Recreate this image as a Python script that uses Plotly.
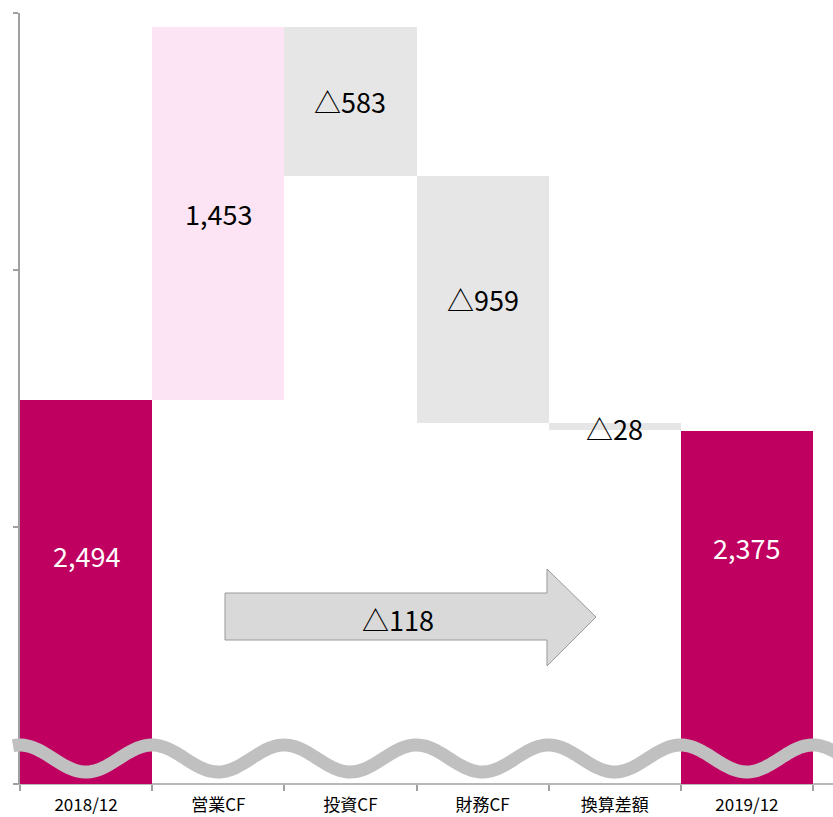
import numpy as np
import plotly.graph_objects as go

# ---- data ----
categories = ["2018/12", "営業CF", "投資CF", "財務CF", "換算差額", "2019/12"]
start_value = 2494
changes = [1453, -583, -959, -28]
end_value = 2375
labels = ["2,494", "1,453", "△583", "△959", "△28", "2,375"]
net_change_label = "△118"
y_min, y_max = 1000, 4000

# ---- layout geometry (pixels) ----
W, H = 833, 817
ML, MR, MT, MB = 20, 20, 13, 33
PW, PH = W - ML - MR, H - MT - MB

def px(x):
    return (x - ML) / PW

def py(y):
    return (H - MB - y) / PH

# waterfall bases / heights
bases, heights = [0], [start_value]
run = start_value
for c in changes:
    if c >= 0:
        bases.append(run); heights.append(c)
    else:
        bases.append(run + c); heights.append(-c)
    run += c
bases.append(0); heights.append(end_value)

TOTAL = "#C00060"
colors = [TOTAL, "#FCE4F4", "#E6E6E6", "#E6E6E6", "#E6E6E6", TOTAL]

fig = go.Figure()
fig.add_trace(go.Bar(
    x=categories, y=heights, base=bases,
    marker=dict(color=colors, line=dict(width=0)),
    width=1.0, hoverinfo="skip",
))

FONT = "Noto Sans CJK JP, Noto Sans, sans-serif"
LSIZE = 27

total_label_px = {0: 555, 5: 547}
for i, cat in enumerate(categories):
    txtcol = "white" if i in (0, 5) else "black"
    if i in total_label_px:
        fig.add_annotation(x=cat, y=py(total_label_px[i]), yref="paper",
                           yanchor="middle",
                           text=labels[i], showarrow=False,
                           font=dict(size=LSIZE, color=txtcol, family=FONT))
    else:
        yy = bases[i] + heights[i] / 2
        fig.add_annotation(x=cat, y=yy, text=labels[i], showarrow=False,
                           yanchor="middle",
                           yshift=-2 if heights[i] < 60 else 0,
                           font=dict(size=LSIZE, color=txtcol, family=FONT))

shapes = []
# wave
xs = np.linspace(13, 840, 300)
ys = 758.5 - 13.5 * np.cos(2 * np.pi * (xs - 152) / (PW / 6))
path = "M " + " L ".join(f"{px(a):.5f},{py(b):.5f}" for a, b in zip(xs, ys))
shapes.append(dict(type="path", path=path, xref="paper", yref="paper",
                   line=dict(color="#C0C0C0", width=13), layer="above"))

# arrow
arrow_pts = [(225, 593), (547, 593), (547, 569), (596, 617), (547, 666), (547, 640), (225, 640)]
apath = "M " + " L ".join(f"{px(a):.5f},{py(b):.5f}" for a, b in arrow_pts) + " Z"
shapes.append(dict(type="path", path=apath, xref="paper", yref="paper",
                   fillcolor="#D9D9D9", line=dict(color="#9A9A9A", width=1), layer="above"))
fig.add_annotation(x=px(398), y=py(619), xref="paper", yref="paper",
                   xanchor="center", yanchor="middle",
                   text=net_change_label, showarrow=False,
                   font=dict(size=LSIZE, color="black", family=FONT))

# x axis baseline extending across
shapes.append(dict(type="line", xref="paper", yref="paper",
                   x0=px(14), x1=px(833), y0=0, y1=0,
                   line=dict(color="#A0A0A0", width=1.5), layer="below"))

fig.update_layout(
    width=W, height=H,
    margin=dict(l=ML, r=MR, t=MT, b=MB, pad=0, autoexpand=False),
    paper_bgcolor="white", plot_bgcolor="white",
    showlegend=False, bargap=0,
    shapes=shapes,
    font=dict(family=FONT, color="black"),
)
fig.update_xaxes(type="category", tickson="boundaries", ticks="outside",
                 ticklen=6, tickcolor="#A0A0A0", tickwidth=1.5,
                 ticklabelstandoff=9, automargin=False,
                 showline=False, showgrid=False, zeroline=False,
                 tickfont=dict(size=17, color="black", family=FONT),
                 range=[-0.5, 5.5])
fig.update_yaxes(range=[y_min, y_max], dtick=1000, tick0=0,
                 showticklabels=False, ticks="outside", ticklen=5,
                 tickcolor="#A0A0A0", tickwidth=1.5, automargin=False,
                 showline=True, linecolor="#A0A0A0", linewidth=1.5,
                 showgrid=False, zeroline=False)

fig.write_html("out.html")
